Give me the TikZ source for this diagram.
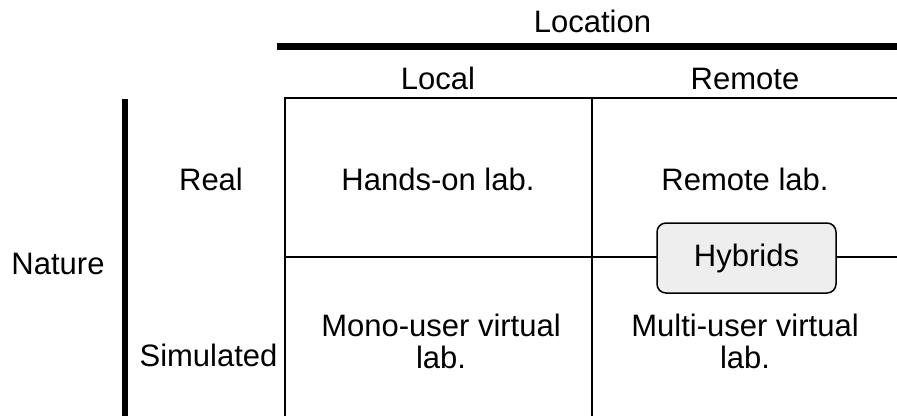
\documentclass[tikz,border=0pt]{standalone}
\usepackage{fontspec}
\setmainfont{Liberation Sans}
\begin{document}
\begin{tikzpicture}[x=1pt,y=-1pt,
  lbl/.style={font=\fontsize{31}{32}\selectfont, inner sep=0pt, align=center},
  bl/.style={lbl, anchor=base},
  thin/.style={line width=1.5pt},
  thick bar/.style={line width=6.5pt},
  hyb/.style={draw, line width=1.5pt, rounded corners=9pt, fill=gray!13, minimum width=179pt, minimum height=70pt, lbl}]
\useasboundingbox (0,0) rectangle (897,416);
% header
\node[bl] (loc) at (592.5,32) {Location};
\coordinate (hbL) at (277,46.5);
\coordinate (hbR) at (897,46.5);
\draw[thick bar] (hbL) -- (hbR);
\node[bl] (local) at (438,89) {Local};
\node[bl] (remote) at (745,89) {Remote};
% left
\coordinate (vbT) at (125,99);
\coordinate (vbB) at (125,416);
\draw[thick bar] (vbT) -- (vbB);
\node[bl] (nature) at (58,274) {Nature};
\node[bl] (real) at (211,190) {Real};
\node[bl] (sim) at (208.5,366) {Simulated};
% grid
\coordinate (g1) at (285,416);
\coordinate (g2) at (285,98);
\coordinate (g3) at (897,98);
\coordinate (m1) at (592,98);
\coordinate (m2) at (592,416);
\coordinate (h1) at (285,257);
\coordinate (h2) at (897,257);
\draw[thin] (g1) -- (g2) -- (g3);
\draw[thin] (m1) -- (m2);
\draw[thin] (h1) -- (h2);
% cells
\node[bl] (hands) at (438,190) {Hands-on lab.};
\node[bl] (rlab) at (745,190) {Remote lab.};
\node[lbl] (mono) at (441,341.5) {Mono-user virtual\\lab.};
\node[lbl] (multi) at (745,341.5) {Multi-user virtual\\lab.};
\node[hyb] (hybrids) at (746.5,258) {Hybrids};
\end{tikzpicture}
\end{document}
